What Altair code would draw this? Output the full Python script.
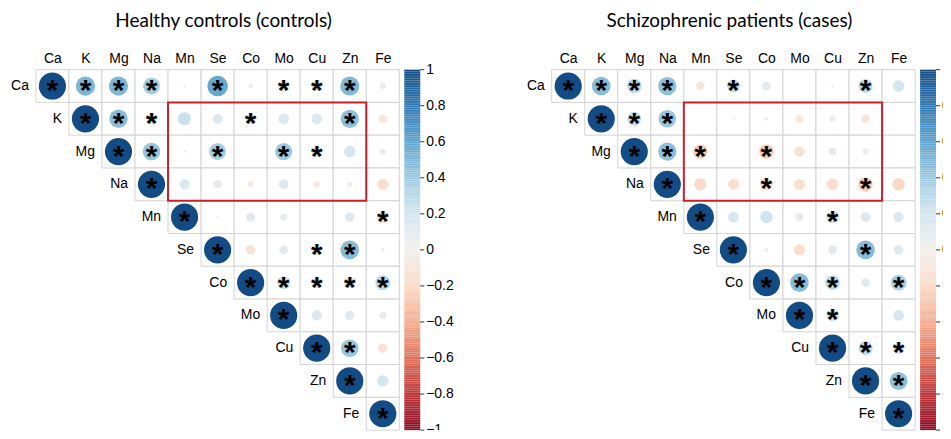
import altair as alt
import pandas as pd

ELEMENTS = ["Ca", "K", "Mg", "Na", "Mn", "Se", "Co", "Mo", "Cu", "Zn", "Fe"]

TITLE_CONTROLS = "Healthy controls (controls)"
TITLE_CASES = "Schizophrenic patients (cases)"

# Upper-triangle correlations, each row starts at the diagonal
CONTROLS_R = [
    [1, 0.50, 0.50, 0.38, 0.01, 0.57, 0.03, 0.15, 0.15, 0.49, -0.05],  # Ca
    [1, 0.46, 0.15, 0.23, 0.13, 0.15, 0.15, 0.15, 0.45, -0.09],        # K
    [1, 0.42, 0.01, 0.38, 0.00, 0.40, 0.15, 0.18, -0.05],              # Mg
    [1, 0.14, 0.09, -0.05, 0.13, -0.05, -0.04, -0.17],                 # Na
    [1, 0.01, 0.11, 0.07, 0.00, 0.12, -0.18],                          # Mn
    [1, -0.12, 0.10, 0.15, 0.47, 0.02],                                # Se
    [1, 0.23, 0.15, 0.17, 0.30],                                       # Co
    [1, 0.14, 0.12, 0.07],                                             # Mo
    [1, 0.42, -0.12],                                                  # Cu
    [1, 0.18],                                                         # Zn
    [1],                                                               # Fe
]
CONTROLS_SIG = [
    ["Ca", "K", "Mg", "Na", "Se", "Mo", "Cu", "Zn"],
    ["K", "Mg", "Na", "Co", "Zn"],
    ["Mg", "Na", "Se", "Mo", "Cu"],
    ["Na"],
    ["Mn", "Fe"],
    ["Se", "Cu", "Zn"],
    ["Co", "Mo", "Cu", "Zn", "Fe"],
    ["Mo"],
    ["Cu", "Zn"],
    ["Zn"],
    ["Fe"],
]

CASES_R = [
    [1, 0.47, 0.29, 0.45, -0.10, 0.23, 0.10, 0.00, 0.01, 0.27, 0.18],  # Ca
    [1, 0.26, 0.42, 0.00, 0.01, -0.02, -0.08, -0.05, -0.10, 0.00],     # K
    [1, 0.45, -0.28, 0.00, -0.28, -0.14, 0.08, -0.05, 0.00],           # Mg
    [1, -0.20, -0.16, -0.20, -0.16, -0.18, -0.27, -0.21],              # Na
    [1, 0.16, 0.21, 0.08, 0.21, 0.13, 0.14],                           # Mn
    [1, -0.02, -0.17, 0.10, 0.47, 0.12],                               # Se
    [1, 0.47, 0.29, 0.10, 0.34],                                       # Co
    [1, 0.20, 0.00, 0.16],                                             # Mo
    [1, 0.27, 0.18],                                                   # Cu
    [1, 0.44],                                                         # Zn
    [1],                                                               # Fe
]
CASES_SIG = [
    ["Ca", "K", "Mg", "Na", "Se", "Zn"],
    ["K", "Mg", "Na"],
    ["Mg", "Na", "Mn", "Co"],
    ["Na", "Co", "Zn"],
    ["Mn", "Cu"],
    ["Se", "Zn"],
    ["Co", "Mo", "Cu", "Fe"],
    ["Mo", "Cu"],
    ["Cu", "Zn", "Fe"],
    ["Zn", "Fe"],
    ["Fe"],
]

HIGHLIGHT_ROWS = ["K", "Na"]
HIGHLIGHT_COLS = ["Mn", "Zn"]
COLORBAR_TICKS = [-1, -0.8, -0.6, -0.4, -0.2, 0, 0.2, 0.4, 0.6, 0.8, 1]

N = len(ELEMENTS)
FONT = "Liberation Sans"
TITLE_FONT = "Lato"
COLOR_SCALE = alt.Scale(domain=[-1, 1], scheme="redblue")
BAR_W = 16
PANEL_W = 365
PANEL_H = 362


def build_frame(rvals, sig):
    recs = []
    for i, row in enumerate(rvals):
        for k, r in enumerate(row):
            j = i + k
            recs.append(dict(row=ELEMENTS[i], col=ELEMENTS[j], ri=i, ri1=i + 1,
                             ci=j, ci1=j + 1, cx=j + 0.5, cy=i + 0.5,
                             r=r, absr=abs(r),
                             sig="*" if ELEMENTS[j] in sig[i] else ""))
    return pd.DataFrame(recs)


def matrix_panel(rvals, sig, title, title_dx):
    df = build_frame(rvals, sig)
    label_arr = "[" + ",".join("'%s'" % e for e in ELEMENTS) + "]"
    xscale = alt.Scale(domain=[0, N], nice=False, zero=False)
    yscale = alt.Scale(domain=[0, N], nice=False, zero=False, reverse=True)
    xaxis = alt.Axis(orient="top", values=[i + 0.5 for i in range(N)],
                     labelExpr=label_arr + "[floor(datum.value)]",
                     ticks=False, domain=False, grid=False, title=None,
                     labelFont=FONT, labelFontSize=14, labelColor="black",
                     labelPadding=4, labelAngle=0, labelOverlap=False)

    def X(f):
        return alt.X(f, scale=xscale, axis=xaxis)

    def Y(f):
        return alt.Y(f, scale=yscale, axis=None)

    base = alt.Chart(df)
    cells = base.mark_rect(fill="white", stroke="#d4d4d4", strokeWidth=1).encode(
        x=X("ci:Q"), x2="ci1:Q", y=Y("ri:Q"), y2="ri1:Q",
    )
    circles = base.mark_circle(opacity=1, strokeWidth=0).encode(
        x=X("cx:Q"), y=Y("cy:Q"),
        size=alt.Size("absr:Q", scale=alt.Scale(domain=[0, 1], range=[0, 745]), legend=None),
        color=alt.Color("r:Q", scale=COLOR_SCALE, legend=None),
    )
    stars = base.transform_filter("datum.sig != ''").mark_text(
        font=FONT, fontSize=30, fontWeight="bold", color="black",
        baseline="alphabetic", dy=14,
    ).encode(x=X("cx:Q"), y=Y("cy:Q"), text="sig:N")
    rowlabels = base.transform_filter("datum.ri == datum.ci").mark_text(
        font=FONT, fontSize=14, color="black", align="right", baseline="middle", dx=-7,
    ).encode(x=X("ci:Q"), y=Y("cy:Q"), text="row:N")
    hl = pd.DataFrame([dict(
        c0=ELEMENTS.index(HIGHLIGHT_COLS[0]), c1=ELEMENTS.index(HIGHLIGHT_COLS[1]) + 1,
        r0=ELEMENTS.index(HIGHLIGHT_ROWS[0]), r1=ELEMENTS.index(HIGHLIGHT_ROWS[1]) + 1)])
    box = alt.Chart(hl).mark_rect(fillOpacity=0, stroke="#c8202a", strokeWidth=2).encode(
        x=X("c0:Q"), x2="c1:Q", y=Y("r0:Q"), y2="r1:Q")
    return alt.layer(cells, circles, stars, rowlabels, box).properties(
        width=PANEL_W, height=PANEL_H,
        title=alt.TitleParams(title, font=TITLE_FONT, fontSize=19, fontWeight="normal",
                              color="black", anchor="middle", dx=title_dx, offset=21),
    )


def gradient_layer(yscale):
    return alt.Chart(alt.sequence(-1, 1, 0.01, as_="v")).transform_calculate(
        v2="datum.v + 0.01").mark_rect().encode(
        x=alt.value(0), x2=alt.value(BAR_W),
        y=alt.Y("v:Q", scale=yscale, axis=None),
        y2="v2:Q",
        color=alt.Color("v:Q", scale=COLOR_SCALE, legend=None),
    )


def colorbar(width, clip_all):
    yscale = alt.Scale(domain=[-1, 1], nice=False, zero=False)
    ticks_df = pd.DataFrame({"t": COLORBAR_TICKS})
    ticks = alt.Chart(ticks_df).mark_rule(color="#333", strokeWidth=1).encode(
        x=alt.value(BAR_W), x2=alt.value(BAR_W + 4), y=alt.Y("t:Q", scale=yscale, axis=None))

    def label_layer(cond, clip):
        return alt.Chart(ticks_df).transform_filter(cond).transform_calculate(
            lbl="format(datum.t, '~g')").mark_text(
            font=FONT, fontSize=14, color="black", align="left", baseline="middle", clip=clip,
        ).encode(x=alt.value(BAR_W + 6), y=alt.Y("t:Q", scale=yscale, axis=None), text="lbl:N")

    upper = label_layer("datum.t > -1", clip_all)
    lowest = label_layer("datum.t <= -1", True)
    return alt.layer(gradient_layer(yscale), ticks, upper, lowest).properties(
        width=width, height=PANEL_H)


left = alt.hconcat(matrix_panel(CONTROLS_R, CONTROLS_SIG, TITLE_CONTROLS, 6),
                   colorbar(50, False), spacing=4)
right = alt.hconcat(matrix_panel(CASES_R, CASES_SIG, TITLE_CASES, -4),
                    colorbar(23, True), spacing=4)

chart = alt.hconcat(left, right, spacing=73).properties(
    padding={"left": 3, "top": 3, "right": 0, "bottom": 0}
).configure_view(strokeWidth=0).configure_axis(labelOverlap=False)

chart.save("out.html", embed_options={"renderer": "svg", "actions": False})
